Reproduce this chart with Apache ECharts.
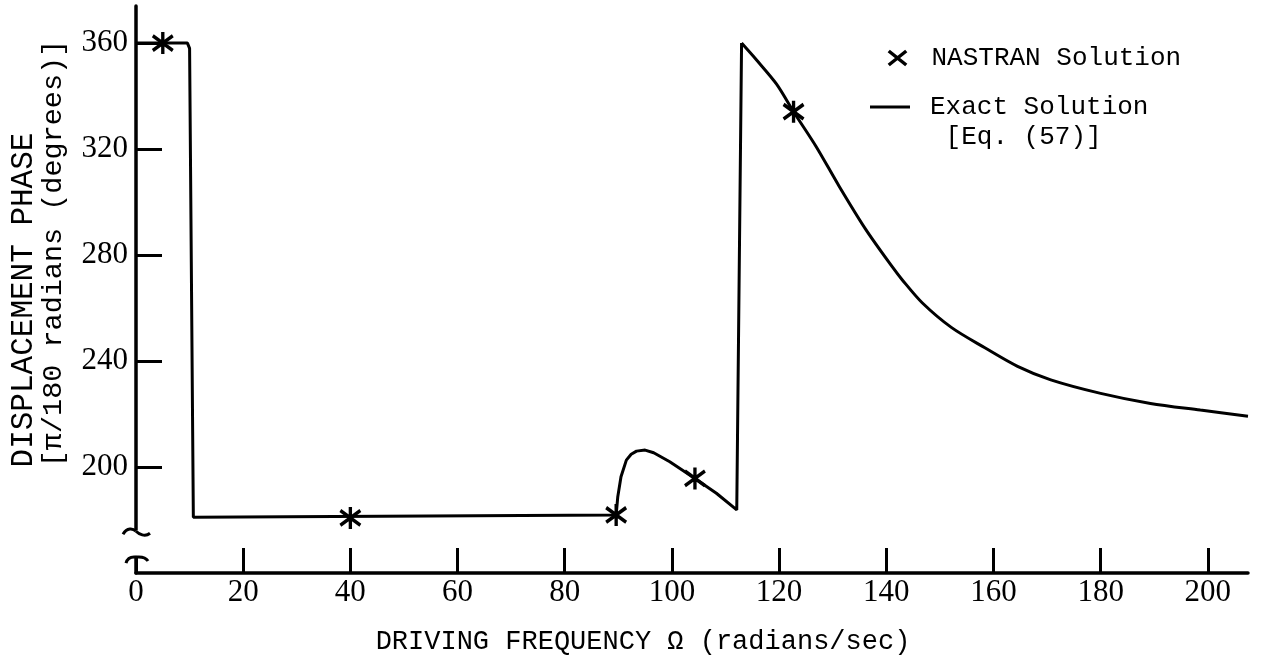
<!DOCTYPE html>
<html>
<head>
<meta charset="utf-8">
<script src="https://cdn.jsdelivr.net/npm/echarts@6/dist/echarts.min.js"></script>
<style>
html,body{margin:0;padding:0;background:#fff;}
#c{width:1261px;height:661px;}
</style>
</head>
<body>
<div id="c"></div>
<script>
// ---- data ----
const xTickValues = [0, 20, 40, 60, 80, 100, 120, 140, 160, 180, 200];
const yTickValues = [200, 240, 280, 320, 360];

// exact solution, branch up to the jump at ~113 rad/s
const exactLowX = [0, 9.6, 10.0, 10.7, 89.6, 89.9, 90.5, 91.5, 92.4, 93.4, 95.0, 96.6, 99.6, 104.3, 108.3, 112.1, 113.0];
const exactLowY = [360, 360, 358, 181, 181.9, 188.8, 196.3, 202.6, 204.8, 206.0, 206.4, 205.4, 202.0, 195.7, 190.1, 183.8, 360];
// exact solution, branch after the jump
const exactHighX = [113.0, 115.8, 119.5, 122.7, 126.9, 131.2, 136.2, 141.1, 143.0, 146.7, 152.2, 158.4,
                    164.5, 170.7, 180.0, 189.3, 198.6, 207.5];
const exactHighY = [360, 353.6, 344.6, 334.1, 321.0, 306.0, 289.6, 275.6, 270.6, 262.0, 252.6, 245.0,
                    238.0, 232.9, 227.8, 224.0, 221.5, 219.2];

const nastranX = [5, 40, 89.6, 104.3, 122.7];
const nastranY = [360, 180.8, 181.9, 195.7, 334.1];

const MONO = '"Liberation Mono", "DejaVu Sans Mono", monospace';
const SERIF = '"Liberation Serif", "DejaVu Serif", serif';

function pairs(xs, ys) { return xs.map(function (x, i) { return [x, ys[i]]; }); }

const chart = echarts.init(document.getElementById('c'), null, {renderer: 'canvas'});

const exactStyle = {
  name: 'Exact Solution',
  type: 'line',
  symbol: 'none',
  lineStyle: {color: '#000', width: 3},
  itemStyle: {color: '#000'},
  z: 2
};

const option = {
  backgroundColor: '#fff',
  animation: false,
  grid: {left: 136, right: 13, top: 6, bottom: 88, containLabel: false},
  xAxis: {
    type: 'value',
    min: 0, max: 207.5, interval: 20,
    name: 'DRIVING FREQUENCY \u03A9 (radians/sec)',
    nameLocation: 'middle',
    nameGap: 55,
    nameTextStyle: {fontFamily: MONO, fontSize: 27, color: '#000', padding: [0, 98, 0, 0]},
    axisLine: {onZero: false, lineStyle: {color: '#000', width: 3.5}},
    axisTick: {inside: true, length: 25, lineStyle: {color: '#000', width: 3}, customValues: xTickValues},
    axisLabel: {fontFamily: SERIF, fontSize: 31, color: '#000', margin: 4, customValues: xTickValues},
    splitLine: {show: false}
  },
  yAxis: {
    type: 'value',
    min: 160, max: 374, interval: 40,
    name: '{a|DISPLACEMENT PHASE     }\n{b|[\u03C0/180 radians (degrees)]}',
    nameLocation: 'middle',
    nameGap: 69,
    nameTextStyle: {
      fontFamily: MONO, fontSize: 28.5, color: '#000', padding: [0, 0, 0, 72],
      rich: {
        a: {fontFamily: MONO, fontSize: 31, lineHeight: 30, color: '#000'},
        b: {fontFamily: MONO, fontSize: 28.5, lineHeight: 28, color: '#000'}
      }
    },
    axisLine: {onZero: false, lineStyle: {color: '#000', width: 3.5}},
    axisTick: {inside: true, length: 26, lineStyle: {color: '#000', width: 3}, customValues: yTickValues},
    axisLabel: {fontFamily: SERIF, fontSize: 31, color: '#000', margin: 8, customValues: yTickValues},
    splitLine: {show: false}
  },
  legend: [
    {
      data: [{name: 'NASTRAN Solution', icon: 'path://M0,0L10,8M0,8L10,0'}],
      left: 887, top: 43, padding: 0,
      itemWidth: 20, itemHeight: 14,
      selectedMode: false,
      itemStyle: {color: '#000', borderColor: '#000', borderWidth: 3.5, opacity: 1},
      textStyle: {fontFamily: MONO, fontSize: 26, color: '#000', lineHeight: 30, padding: [0, 0, 0, 19]}
    },
    {
      data: [{name: 'Exact Solution', icon: 'rect'}],
      left: 870, top: 62, padding: 0,
      itemWidth: 40, itemHeight: 3,
      selectedMode: false,
      itemStyle: {color: '#000', borderWidth: 0, opacity: 1},
      lineStyle: {width: 0},
      formatter: function (n) { return ' \n' + n + '\n [Eq. (57)]'; },
      textStyle: {fontFamily: MONO, fontSize: 26, color: '#000', lineHeight: 30, padding: [0, 0, 0, 15]}
    }
  ],
  series: [
    Object.assign({}, exactStyle, {data: pairs(exactLowX, exactLowY), smooth: false}),
    Object.assign({}, exactStyle, {data: pairs(exactHighX, exactHighY), smooth: 0.3}),
    {
      name: 'NASTRAN Solution',
      type: 'scatter',
      data: pairs(nastranX, nastranY),
      symbol: 'path://M-5,-4L5,4M-5,4L5,-4M0,-6L0,6',
      symbolSize: [20, 22],
      itemStyle: {color: '#000', borderColor: '#000', borderWidth: 3.5, opacity: 1},
      z: 3
    }
  ]
};
chart.setOption(option);

// axis-break decoration on the y axis
const a = chart.convertToPixel({gridIndex: 0}, [0, 176.5]);
const b = chart.convertToPixel({gridIndex: 0}, [0, 166]);
const ax = a[0], y0 = a[1], y1 = b[1];
const stroke = {fill: null, stroke: '#000', lineWidth: 3};
chart.setOption({
  graphic: [
    {type: 'rect', z: 100, shape: {x: ax - 9, y: y0 + 1, width: 18, height: y1 - y0 - 1}, style: {fill: '#fff'}},
    {type: 'bezierCurve', z: 101,
     shape: {x1: ax - 13, y1: y0 + 5, cpx1: ax - 9, cpy1: y0 - 2, cpx2: ax - 3, cpy2: y0 - 1, x2: ax, y2: y0 + 2},
     style: stroke},
    {type: 'bezierCurve', z: 101,
     shape: {x1: ax, y1: y0 + 2, cpx1: ax + 3, cpy1: y0 + 5, cpx2: ax + 9, cpy2: y0 + 8, x2: ax + 14, y2: y0 + 4},
     style: stroke},
    {type: 'bezierCurve', z: 101,
     shape: {x1: ax - 10, y1: y1 + 6, cpx1: ax - 8, cpy1: y1 - 1, x2: ax, y2: y1},
     style: stroke},
    {type: 'bezierCurve', z: 101,
     shape: {x1: ax, y1: y1, cpx1: ax + 9, cpy1: y1 - 1, x2: ax + 12, y2: y1 + 4},
     style: stroke}
  ]
});
</script>
</body>
</html>
